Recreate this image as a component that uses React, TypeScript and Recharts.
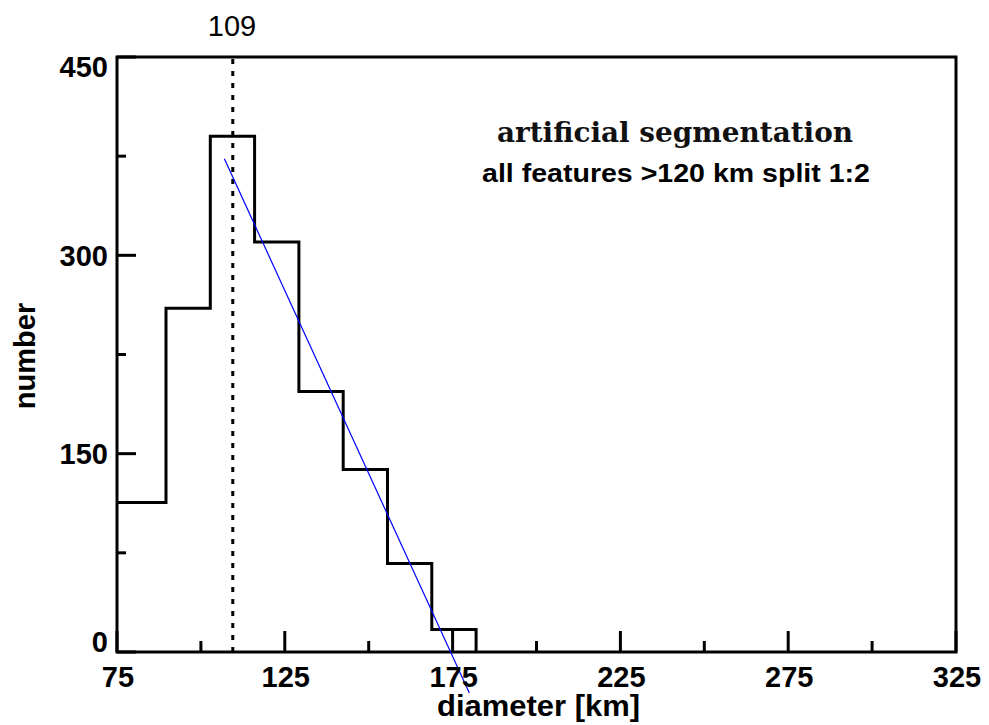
import React from "react";
import {
  ComposedChart,
  Line,
  XAxis,
  YAxis,
  ReferenceLine,
  ReferenceArea,
} from "recharts";

// ---- data ----
const binEdges = [75, 89.6, 102.8, 116.0, 129.2, 142.4, 155.6, 168.8, 182.0];
const binCounts = [113, 260, 390, 310, 197, 138, 67, 17];
const fitX = [107, 180];
const fitY = [373, -31];
const markerDiameter = 109.5;
const markerLabel = "109";
const xTicks = [75, 100, 125, 150, 175, 200, 225, 250, 275, 300, 325];
const xMajorTicks = [75, 125, 175, 225, 275, 325];
const yTicks = [0, 75, 150, 225, 300, 375, 450];
const yMajorTicks = [0, 150, 300, 450];
const titleText = "artificial segmentation";
const subtitleText = "all features >120  km split 1:2";
const xAxisTitle = "diameter  [km]";
const yAxisTitle = "number";

const histData = binEdges.map((e, i) => ({
  x: e,
  count: i < binCounts.length ? binCounts[i] : 0,
}));

const W = 989;
const H = 725;
const tickFont = "'Liberation Sans', Arial, sans-serif";
const FS = 29;

const XTick = (props: any) => {
  const { x, y, payload } = props;
  const v = payload.value;
  const major = xMajorTicks.includes(v);
  return (
    <g>
      <line x1={x} x2={x} y1={y} y2={y - (major ? 21 : 11)} stroke="#000" strokeWidth={3} />
      {major && (
        <text
          x={x + 1}
          y={y + 35}
          textAnchor="middle"
          fontFamily={tickFont}
          fontWeight="bold"
          fontSize={FS}
          fill="#000"
        >
          {v}
        </text>
      )}
    </g>
  );
};

const YTickLeft = (props: any) => {
  const { x, y, payload } = props;
  const v = payload.value;
  const major = yMajorTicks.includes(v);
  let shift = 0;
  if (v === yTicks[0]) shift = -10;
  if (v === yTicks[yTicks.length - 1]) shift = 10;
  return (
    <g>
      <line x1={x} x2={x + (major ? 19 : 9)} y1={y} y2={y} stroke="#000" strokeWidth={3} />
      {major && (
        <text
          x={x - 9}
          y={y + shift + 0.358 * FS}
          textAnchor="end"
          fontFamily={tickFont}
          fontWeight="bold"
          fontSize={FS}
          fill="#000"
        >
          {v}
        </text>
      )}
    </g>
  );
};

const YTickRight = (props: any) => {
  const { x, y, payload } = props;
  const v = payload.value;
  const major = yMajorTicks.includes(v);
  return (
    <line x1={x} x2={x - (major ? 18 : 9)} y1={y} y2={y} stroke="#000" strokeWidth={3} />
  );
};

export default function App() {
  return (
    <div style={{ position: "absolute", left: 0, top: 0, width: W, height: H, background: "#fff" }}>
      <ComposedChart
        width={W}
        height={H}
        data={histData}
        margin={{ top: 57, right: 23, bottom: 33, left: 57 }}
      >
        <XAxis
          dataKey="x"
          type="number"
          domain={[75, 325]}
          ticks={xTicks}
          interval={0}
          tickSize={0}
          tickMargin={0}
          tickLine={false}
          axisLine={false}
          height={40}
          tick={<XTick />}
        />
        <YAxis
          yAxisId="l"
          type="number"
          domain={[0, 450]}
          ticks={yTicks}
          interval={0}
          tickSize={0}
          tickMargin={0}
          tickLine={false}
          axisLine={false}
          width={60}
          tick={<YTickLeft />}
        />
        <YAxis
          yAxisId="r"
          orientation="right"
          type="number"
          domain={[0, 450]}
          ticks={yTicks}
          interval={0}
          tickSize={0}
          tickMargin={0}
          tickLine={false}
          axisLine={false}
          width={10}
          tick={<YTickRight />}
        />
        <ReferenceLine
          yAxisId="l"
          x={markerDiameter}
          stroke="#000"
          strokeWidth={3}
          strokeDasharray="5 7"
        />
        <Line
          yAxisId="l"
          dataKey="count"
          type="stepAfter"
          stroke="#000"
          strokeWidth={3}
          dot={false}
          activeDot={false}
          isAnimationActive={false}
        />
        <ReferenceLine
          yAxisId="l"
          segment={[
            { x: fitX[0], y: fitY[0] },
            { x: fitX[1], y: fitY[1] },
          ]}
          stroke="#0000ff"
          strokeWidth={1.2}
          ifOverflow="visible"
        />
        <ReferenceArea
          yAxisId="l"
          x1={75}
          x2={325}
          y1={0}
          y2={450}
          fill="#fff"
          fillOpacity={0}
          stroke="#000"
          strokeWidth={3}
          ifOverflow="visible"
        />
      </ComposedChart>
      <svg
        width={W}
        height={H}
        style={{ position: "absolute", left: 0, top: 0, pointerEvents: "none" }}
      >
        <text x={232} y={36} textAnchor="middle" fontFamily={tickFont} fontSize={29} fill="#000">
          {markerLabel}
        </text>
        <text
          x={497}
          y={142}
          textLength={356}
          lengthAdjust="spacingAndGlyphs"
          fontFamily="'DejaVu Serif', serif"
          fontWeight="bold"
          fontSize={28}
          fill="#111"
        >
          {titleText}
        </text>
        <text
          x={482}
          y={182}
          textLength={388}
          lengthAdjust="spacingAndGlyphs"
          fontFamily={tickFont}
          fontWeight="bold"
          fontSize={25}
          fill="#000"
        >
          {subtitleText}
        </text>
        <text
          x={437}
          y={716}
          textLength={203}
          lengthAdjust="spacingAndGlyphs"
          fontFamily={tickFont}
          fontWeight="bold"
          fontSize={29}
          fill="#000"
        >
          {xAxisTitle}
        </text>
        <text
          transform="translate(35,356) rotate(-90)"
          x={0}
          y={0}
          textAnchor="middle"
          fontFamily={tickFont}
          fontWeight="bold"
          fontSize={29}
          fill="#000"
        >
          {yAxisTitle}
        </text>
      </svg>
    </div>
  );
}
